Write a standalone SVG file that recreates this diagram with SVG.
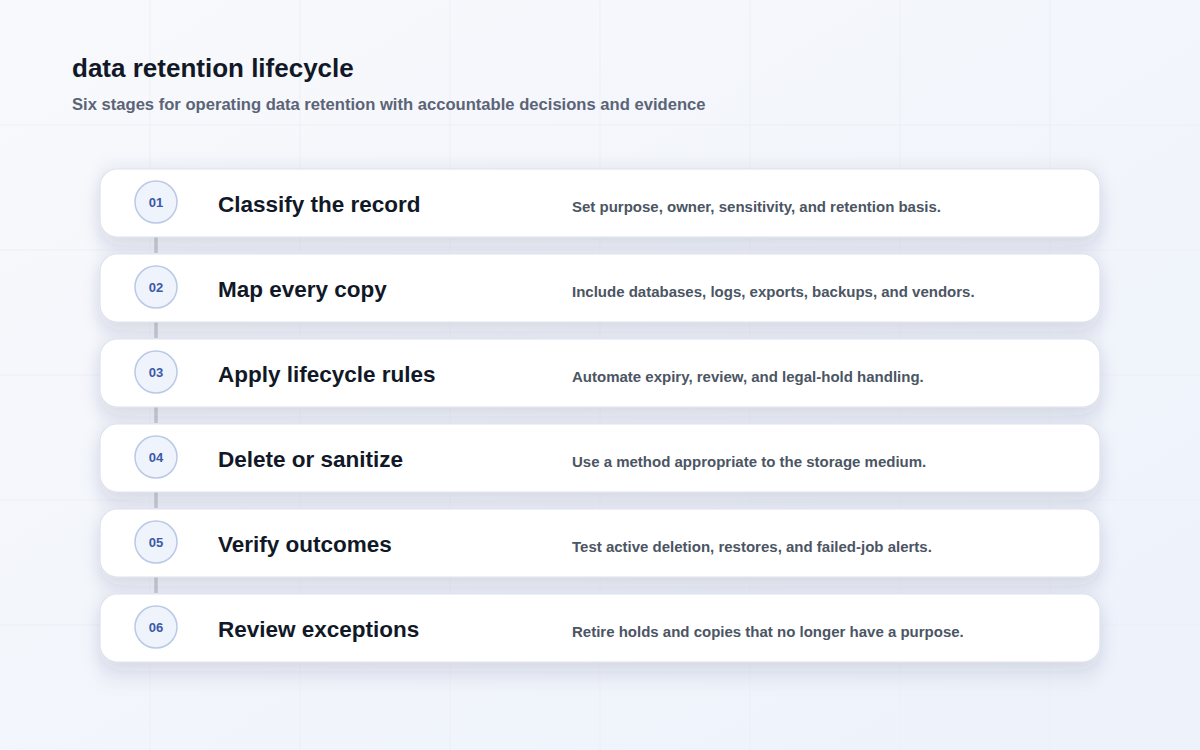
<svg xmlns="http://www.w3.org/2000/svg" width="1200" height="750" viewBox="0 0 1200 750">
<defs>
<linearGradient id="bg" x1="0" y1="0" x2="1" y2="1">
<stop offset="0" stop-color="#f8f9fc"/>
<stop offset="1" stop-color="#edf2fb"/>
</linearGradient>
<filter id="sh" x="-10%" y="-40%" width="120%" height="200%">
<feDropShadow dx="0" dy="8" stdDeviation="9" flood-color="#2a3a66" flood-opacity="0.13"/>
</filter>
<filter id="pb" x="-10%" y="-10%" width="120%" height="120%">
<feGaussianBlur stdDeviation="6"/>
</filter>
<style>
.grid{stroke:#eceff5;stroke-width:1;fill:none}
.card{fill:#ffffff;stroke:#dde2ec;stroke-width:1.2;filter:url(#sh)}
.badge{fill:#eef3fc;stroke:#b9c9e6;stroke-width:1.5}
.num{font-family:"Liberation Sans",Arial,sans-serif;font-size:13px;font-weight:700;fill:#3a59a8;text-anchor:middle}
.ttl{font-family:"Liberation Sans",Arial,sans-serif;font-size:22.5px;font-weight:700;fill:#111827}
.dsc{font-family:"Liberation Sans",Arial,sans-serif;font-size:15px;font-weight:700;fill:#4b5563}
.conn{stroke:#c6cad2;stroke-width:3.5}
</style>
</defs>
<rect width="1200" height="750" fill="url(#bg)"/>
<g id="grid">
<path class="grid" d="M150 0V750M300 0V750M450 0V750M600 0V750M750 0V750M900 0V750M1050 0V750M0 125H1200M0 250H1200M0 375H1200M0 500H1200M0 625H1200"/>
</g>
<rect x="100" y="160" width="1000" height="528" fill="#e4e8f1" opacity="0.35" filter="url(#pb)"/>
<g id="header">
<text x="72" y="77" font-family="Liberation Sans, Arial, sans-serif" font-size="26" font-weight="700" fill="#111827">data retention lifecycle</text>
<text x="72" y="110" font-family="Liberation Sans, Arial, sans-serif" font-size="16.6" font-weight="700" fill="#5b6477">Six stages for operating data retention with accountable decisions and evidence</text>
</g>
<g id="connectors">
<line class="conn" x1="156" y1="237" x2="156" y2="253"/>
<line class="conn" x1="156" y1="322" x2="156" y2="338"/>
<line class="conn" x1="156" y1="407" x2="156" y2="423"/>
<line class="conn" x1="156" y1="492" x2="156" y2="508"/>
<line class="conn" x1="156" y1="577" x2="156" y2="593"/>
</g>
<g id="step1">
<rect class="card" x="100" y="169" width="1000" height="68" rx="17"/>
<circle class="badge" cx="156" cy="202" r="21"/>
<text class="num" x="156" y="207">01</text>
<text class="ttl" x="218" y="212">Classify the record</text>
<text class="dsc" x="572" y="212">Set purpose, owner, sensitivity, and retention basis.</text>
</g>
<g id="step2">
<rect class="card" x="100" y="254" width="1000" height="68" rx="17"/>
<circle class="badge" cx="156" cy="287" r="21"/>
<text class="num" x="156" y="292">02</text>
<text class="ttl" x="218" y="297">Map every copy</text>
<text class="dsc" x="572" y="297">Include databases, logs, exports, backups, and vendors.</text>
</g>
<g id="step3">
<rect class="card" x="100" y="339" width="1000" height="68" rx="17"/>
<circle class="badge" cx="156" cy="372" r="21"/>
<text class="num" x="156" y="377">03</text>
<text class="ttl" x="218" y="382">Apply lifecycle rules</text>
<text class="dsc" x="572" y="382">Automate expiry, review, and legal-hold handling.</text>
</g>
<g id="step4">
<rect class="card" x="100" y="424" width="1000" height="68" rx="17"/>
<circle class="badge" cx="156" cy="457" r="21"/>
<text class="num" x="156" y="462">04</text>
<text class="ttl" x="218" y="467">Delete or sanitize</text>
<text class="dsc" x="572" y="467">Use a method appropriate to the storage medium.</text>
</g>
<g id="step5">
<rect class="card" x="100" y="509" width="1000" height="68" rx="17"/>
<circle class="badge" cx="156" cy="542" r="21"/>
<text class="num" x="156" y="547">05</text>
<text class="ttl" x="218" y="552">Verify outcomes</text>
<text class="dsc" x="572" y="552">Test active deletion, restores, and failed-job alerts.</text>
</g>
<g id="step6">
<rect class="card" x="100" y="594" width="1000" height="68" rx="17"/>
<circle class="badge" cx="156" cy="627" r="21"/>
<text class="num" x="156" y="632">06</text>
<text class="ttl" x="218" y="637">Review exceptions</text>
<text class="dsc" x="572" y="637">Retire holds and copies that no longer have a purpose.</text>
</g>
</svg>
